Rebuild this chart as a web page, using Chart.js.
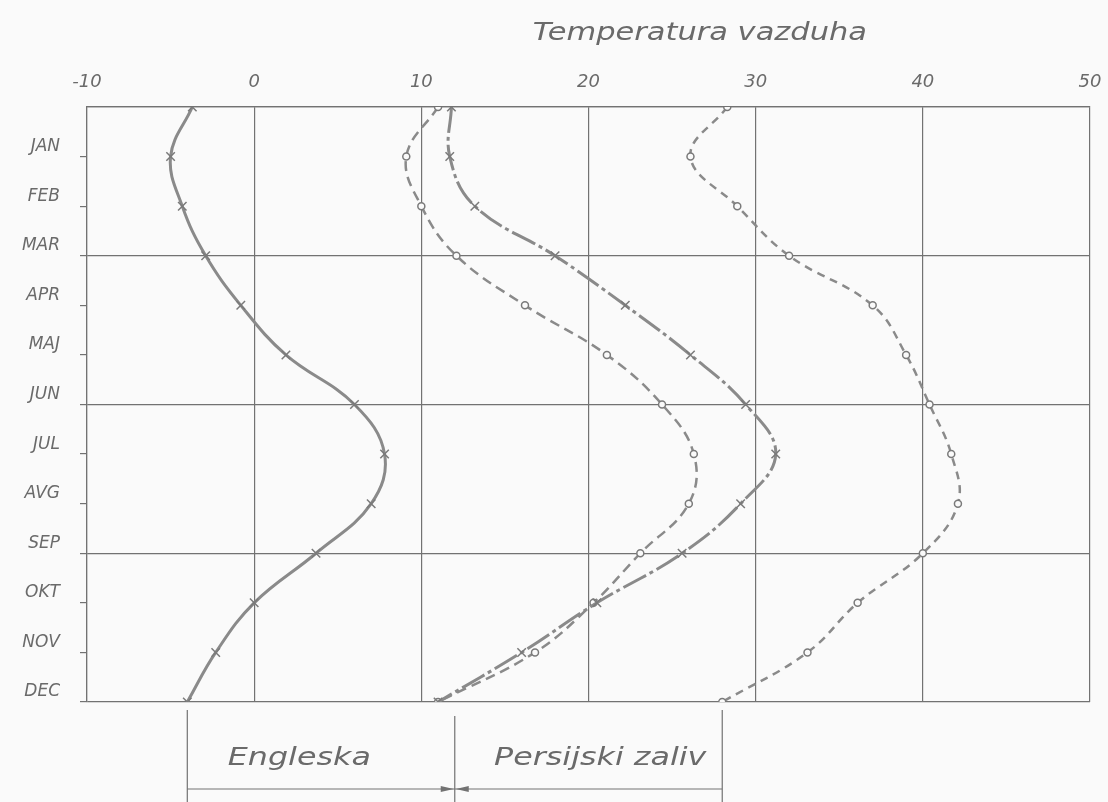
<!DOCTYPE html>
<html>
<head>
<meta charset="utf-8">
<title>Temperatura vazduha</title>
<script src="https://cdn.jsdelivr.net/npm/chart.js@4.4.1/dist/chart.umd.min.js"></script>
<style>
    body { margin: 0; background: #fafafa; }
    #wrap { width: 1108px; height: 802px; position: relative; }
</style>
</head>
<body>
<div id="wrap"><canvas id="tempChart"></canvas></div>
<script>
// Podaci - mjeseci (0 = pocetak godine, 1..12 = JAN..DEC)
const monthPos = [0, 1, 2, 3, 4, 5, 6, 7, 8, 9, 10, 11, 12];
const monthLabels = ['JAN', 'FEB', 'MAR', 'APR', 'MAJ', 'JUN', 'JUL', 'AVG', 'SEP', 'OKT', 'NOV', 'DEC'];
const tempTicks = [-10, 0, 10, 20, 30, 40, 50];

// Temperature ocitane sa crteza
const engleska = [-3.7, -5.0, -4.3, -2.9, -0.8, 1.9, 6.0, 7.8, 7.0, 3.7, 0.0, -2.3, -4.0];
const zalivPuna = [11.8, 11.7, 13.2, 18.0, 22.2, 26.1, 29.4, 31.2, 29.1, 25.6, 20.5, 16.0, 11.0];
const zalivIsprekidana = [11.0, 9.1, 10.0, 12.1, 16.2, 21.1, 24.4, 26.3, 26.0, 23.1, 20.3, 16.8, 11.0];
const zalivDesna = [28.3, 26.1, 28.9, 32.0, 37.0, 39.0, 40.4, 41.7, 42.1, 40.0, 36.1, 33.1, 28.0];

// Granice oznaka ispod grafika
const bracketEdges = [-4, 12, 28];
const bracketNames = ['Engleska', 'Persijski zaliv'];

const lineGray = '#8a8a8a';
const gridGray = '#727272';
const textGray = '#6a6a6a';
const handFont = '"DejaVu Sans", "Liberation Sans", sans-serif';

function toPoints(values) {
    return values.map((v, i) => ({ x: v, y: monthPos[i] }));
}

// rukom pisana slova su sira, pa se tekst malo razvuce
function wideText(ctx, text, x, y, align) {
    ctx.save();
    ctx.translate(x, y);
    ctx.scale(1.27, 1);
    ctx.textAlign = align;
    ctx.fillText(text, 0, 0);
    ctx.restore();
}

// Naslov i oznake ispod grafika
const annotations = {
    id: 'annotations',
    afterDraw(chart) {
        const ctx = chart.ctx;
        const xs = chart.scales.x;
        ctx.save();
        ctx.fillStyle = textGray;
        ctx.textBaseline = 'middle';
        ctx.font = 'italic 24px ' + handFont;
        wideText(ctx, 'Temperatura vazduha', 867, 34, 'right');

        ctx.strokeStyle = gridGray;
        ctx.lineWidth = 1.2;
        const px = bracketEdges.map(v => xs.getPixelForValue(v));
        px.forEach((p, i) => {
            ctx.beginPath();
            ctx.moveTo(p, i === 1 ? 716 : 710);
            ctx.lineTo(p, 802);
            ctx.stroke();
        });
        const yLine = 789;
        ctx.beginPath();
        ctx.moveTo(px[0], yLine);
        ctx.lineTo(px[px.length - 1], yLine);
        ctx.stroke();

        // strelice prema srednjoj liniji
        const mid = px[1];
        ctx.fillStyle = gridGray;
        [-1, 1].forEach(side => {
            ctx.beginPath();
            ctx.moveTo(mid + side, yLine);
            ctx.lineTo(mid + side * 14, yLine - 3);
            ctx.lineTo(mid + side * 14, yLine + 3);
            ctx.closePath();
            ctx.fill();
        });

        ctx.fillStyle = textGray;
        ctx.font = 'italic 25px ' + handFont;
        const textCenters = [xs.getPixelForValue(2.7), xs.getPixelForValue(20.7)];
        bracketNames.forEach((name, i) => {
            wideText(ctx, name, textCenters[i], 758, 'center');
        });
        ctx.restore();
    }
};

const ctx = document.getElementById('tempChart').getContext('2d');
const tempChart = new Chart(ctx, {
    type: 'line',
    data: {
        datasets: [
            {
                label: 'Engleska',
                data: toPoints(engleska),
                borderColor: lineGray,
                borderWidth: 3,
                pointStyle: 'crossRot',
                pointRadius: 6,
                pointBorderColor: '#7a7a7a',
                pointBorderWidth: 1.5,
                tension: 0.4
            },
            {
                label: 'Persijski zaliv 1',
                data: toPoints(zalivPuna),
                borderColor: lineGray,
                borderWidth: 3,
                borderDash: [26, 4, 4, 4],
                pointStyle: 'crossRot',
                pointRadius: 6,
                pointBorderColor: '#7a7a7a',
                pointBorderWidth: 1.5,
                tension: 0.4
            },
            {
                label: 'Persijski zaliv 2',
                data: toPoints(zalivIsprekidana),
                borderColor: lineGray,
                borderWidth: 2.5,
                borderDash: [10, 6],
                pointStyle: 'circle',
                pointRadius: 3.5,
                pointBackgroundColor: '#fafafa',
                pointBorderColor: '#7a7a7a',
                pointBorderWidth: 1.5,
                tension: 0.4
            },
            {
                label: 'Persijski zaliv 3',
                data: toPoints(zalivDesna),
                borderColor: lineGray,
                borderWidth: 2.5,
                borderDash: [8, 6],
                pointStyle: 'circle',
                pointRadius: 3.5,
                pointBackgroundColor: '#fafafa',
                pointBorderColor: '#7a7a7a',
                pointBorderWidth: 1.5,
                tension: 0.4
            }
        ]
    },
    options: {
        responsive: true,
        maintainAspectRatio: false,
        animation: false,
        layout: { padding: { left: 0, top: 0, right: 18, bottom: 100 } },
        scales: {
            x: {
                type: 'linear',
                position: 'top',
                min: tempTicks[0],
                max: tempTicks[tempTicks.length - 1],
                afterBuildTicks: scale => { scale.ticks = tempTicks.map(v => ({ value: v })); },
                afterFit: scale => {
                    scale.height = 107;
                    scale.paddingLeft = 0;
                    scale.paddingRight = 0;
                },
                grid: { color: gridGray, lineWidth: 1.2, drawTicks: false },
                border: { color: gridGray, width: 1.2 },
                ticks: {
                    padding: 14,
                    color: textGray,
                    font: { family: handFont, size: 18, style: 'italic' }
                }
            },
            y: {
                type: 'linear',
                reverse: true,
                min: monthPos[0],
                max: monthPos[monthPos.length - 1],
                afterBuildTicks: scale => { scale.ticks = monthPos.map(v => ({ value: v })); },
                afterFit: scale => { scale.width = 87; },
                grid: {
                    color: c => (c.tick && c.tick.value % 3 === 0) ? gridGray : 'rgba(0,0,0,0)',
                    tickColor: c => (c.tick && c.tick.value > 0) ? gridGray : 'rgba(0,0,0,0)',
                    lineWidth: 1.2,
                    tickLength: 7
                },
                border: { color: gridGray, width: 1.2 },
                ticks: {
                    padding: 20,
                    labelOffset: -10,
                    color: textGray,
                    font: { family: handFont, size: 17, style: 'italic' },
                    callback: v => monthLabels[v - 1] || ''
                }
            }
        },
        plugins: {
            legend: { display: false },
            tooltip: { enabled: false }
        }
    },
    plugins: [annotations]
});
</script>
</body>
</html>
